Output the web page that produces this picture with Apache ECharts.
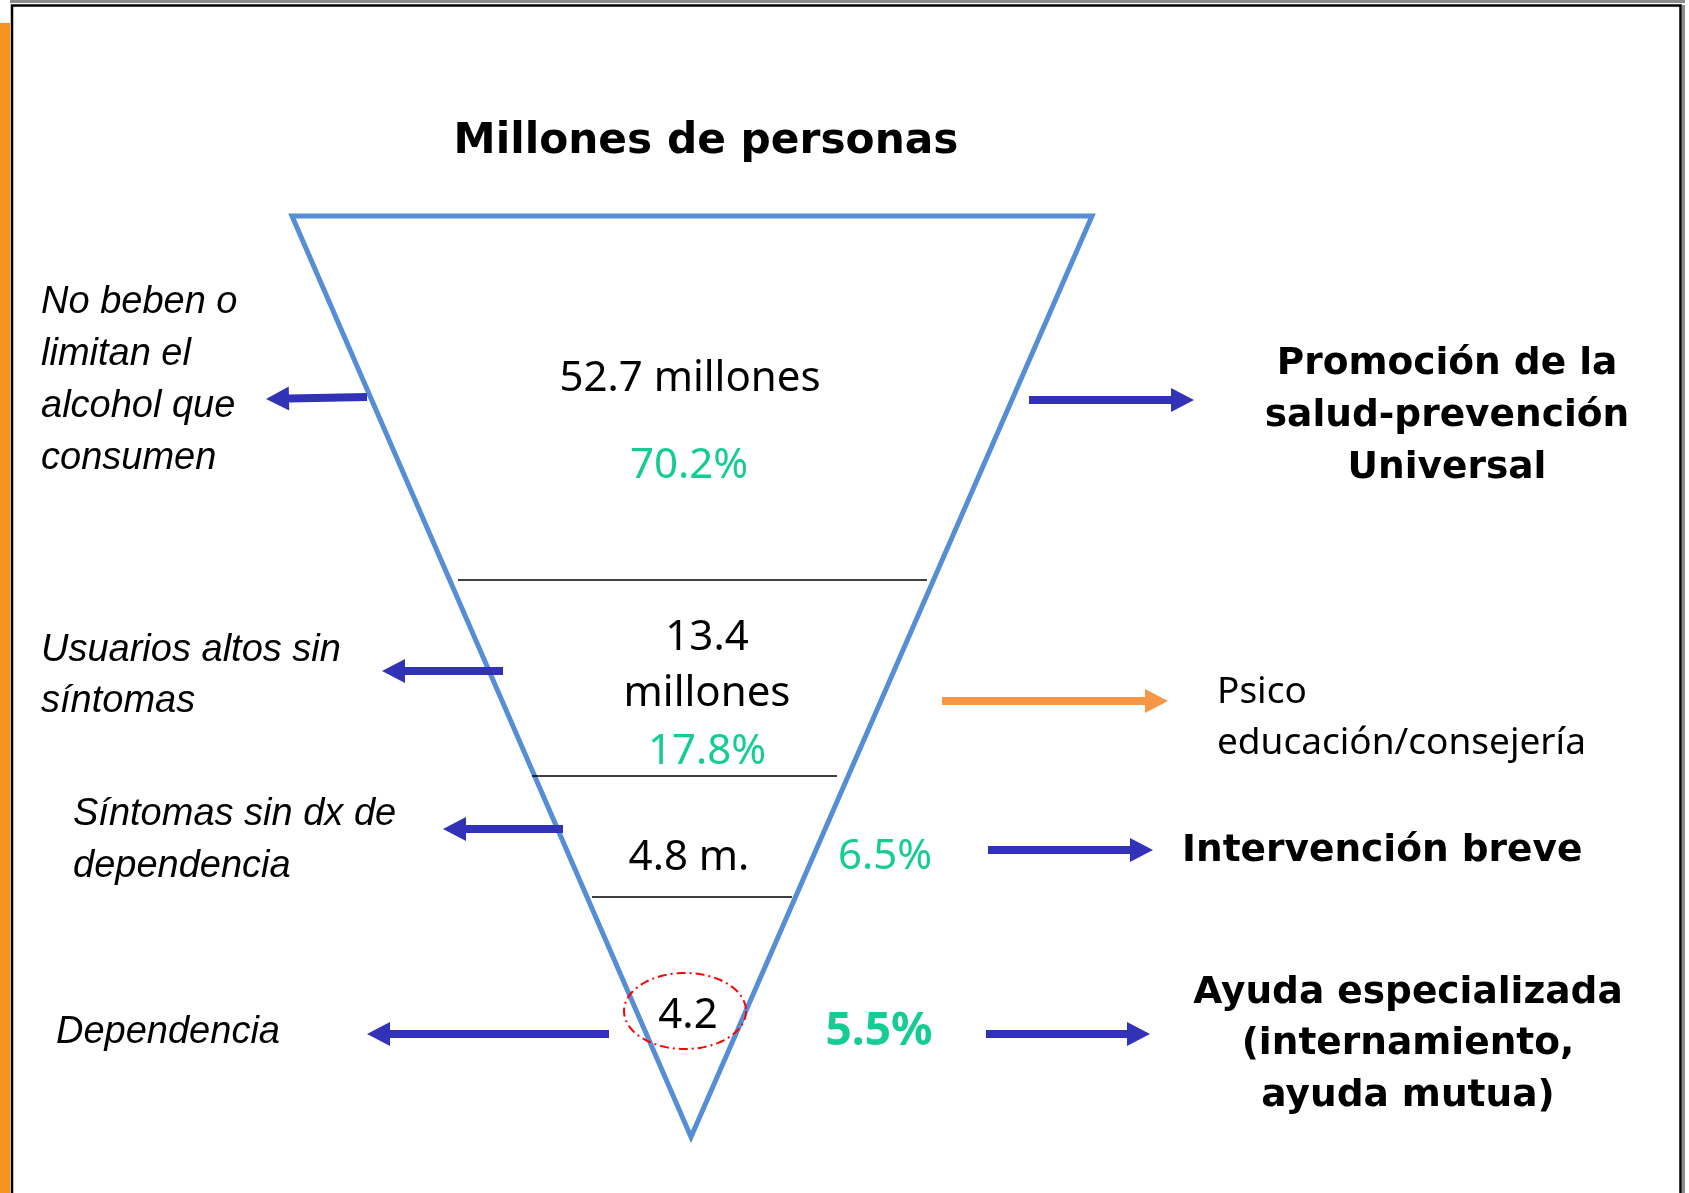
<!DOCTYPE html>
<html><head><meta charset="utf-8">
<script src="https://cdn.jsdelivr.net/npm/echarts@6/dist/echarts.min.js"></script>
<style>html,body{margin:0;padding:0;background:#fff;overflow:hidden}#c{width:1689px;height:1193px}</style>
</head><body><div id="c"></div><script>
// ---------- DATA ----------
const title = 'Millones de personas';
const groups = [
  'No beben o\nlimitan el\nalcohol que\nconsumen',
  'Usuarios altos sin\nsíntomas',
  'Síntomas sin dx de\ndependencia',
  'Dependencia'
];
const millions = [52.7, 13.4, 4.8, 4.2];
const millionLabels = ['52.7 millones', '13.4\nmillones', '4.8 m.', '4.2'];
const percents = [70.2, 17.8, 6.5, 5.5];
const percentLabels = ['70.2%', '17.8%', '6.5%', '5.5%'];
const interventions = [
  'Promoción de la\nsalud-prevención\nUniversal',
  'Psico\neducación/consejería',
  'Intervención breve',
  'Ayuda especializada\n(internamiento,\nayuda mutua)'
];

// ---------- LAYOUT (diagram units = page pixels) ----------
const W = 1689, H = 1193;
const tri = [[292, 216], [1092, 216], [691, 1137]];
const dividers = [[458, 927, 580], [532, 837, 776], [592, 792, 897]];
const millionPos = [[690, 379, 0], [707, 638, 56], [689, 858, 0], [688, 1016, 0]];
const percentPos = [[689, 466], [707, 752], [885, 857], [879, 1032]];
const groupPos = [[41, 302, 52], [41, 650, 51], [73, 814, 52], [56, 1032, 0]];
const intervPos = [[1447, 364, 52, 'center'], [1217, 692, 51, 'left'], [1182, 851, 0, 'left'], [1408, 993, 51.5, 'center']];
const titlePos = [706, 142];
const leftArrows = [[367, 397, 266, 399], [503, 671, 382, 671], [563, 829, 443, 829], [609, 1034, 367, 1034]];
const rightArrows = [[1029, 400, 1194, 400], [942, 701, 1168, 701], [988, 850, 1153, 850], [986, 1034, 1150, 1034]];
const ellipse = [685, 1011, 61, 38];

const BLUE = '#558ED5', NAVY = '#3232B9', ORANGE = '#F79646', GREEN = '#14CC94';

const chart = echarts.init(document.getElementById('c'), null, {renderer: 'canvas'});

function textLines(api, str, x, y, lh, align, font, fill) {
  return str.split('\n').map((s, i) => {
    const p = api.coord([x, y + i * lh]);
    return {type: 'text', x: p[0], y: p[1], style: {text: s, font: font, fill: fill, align: align, verticalAlign: 'middle'}};
  });
}
function arrowPoly(api, a, shaft, headL, headW) {
  const t = api.coord([a[0], a[1]]), h = api.coord([a[2], a[3]]);
  const dx = h[0] - t[0], dy = h[1] - t[1], L = Math.sqrt(dx * dx + dy * dy);
  const ux = dx / L, uy = dy / L, nx = -uy, ny = ux;
  const bx = h[0] - ux * headL, by = h[1] - uy * headL;
  return [
    [t[0] + nx * shaft / 2, t[1] + ny * shaft / 2],
    [bx + nx * shaft / 2, by + ny * shaft / 2],
    [bx + nx * headW / 2, by + ny * headW / 2],
    [h[0], h[1]],
    [bx - nx * headW / 2, by - ny * headW / 2],
    [bx - nx * shaft / 2, by - ny * shaft / 2],
    [t[0] - nx * shaft / 2, t[1] - ny * shaft / 2]
  ];
}

const option = {
  animation: false,
  backgroundColor: '#ffffff',
  grid: {left: 0, right: 0, top: 0, bottom: 0, containLabel: false},
  xAxis: {type: 'value', min: 0, max: W, show: false},
  yAxis: {type: 'value', min: 0, max: H, inverse: true, show: false},
  graphic: [
    {type: 'rect', shape: {x: 0, y: 23, width: 10, height: H}, style: {fill: '#F7941E'}},
    {type: 'rect', shape: {x: 10, y: 0, width: 1675, height: 3}, style: {fill: '#8C8C8C'}},
    {type: 'rect', shape: {x: 1682, y: 5, width: 3, height: H}, style: {fill: '#8C8C8C'}},
    {type: 'rect', shape: {x: 12, y: 5.5, width: 1668.5, height: H + 20}, style: {fill: 'none', stroke: '#000', lineWidth: 2.5}}
  ],
  series: [
    { // triangle
      type: 'custom', data: [[0]], silent: true,
      renderItem: (params, api) => ({
        type: 'polygon',
        shape: {points: tri.map(p => api.coord(p))},
        style: {fill: 'none', stroke: BLUE, lineWidth: 5, lineJoin: 'miter'}
      })
    },
    { // dividers
      type: 'custom', data: dividers.map((d, i) => [i]), silent: true,
      renderItem: (params, api) => {
        const d = dividers[api.value(0)];
        const a = api.coord([d[0], d[2]]), b = api.coord([d[1], d[2]]);
        return {type: 'line', shape: {x1: a[0], y1: a[1], x2: b[0], y2: b[1]}, style: {stroke: '#000', lineWidth: 1.5}};
      }
    },
    { // ellipse around dependence value
      type: 'custom', data: [[0]], silent: true,
      renderItem: (params, api) => {
        const pts = [];
        for (let k = 0; k <= 120; k++) {
          const t = k / 120 * Math.PI * 2;
          pts.push(api.coord([ellipse[0] + ellipse[2] * Math.cos(t), ellipse[1] + ellipse[3] * Math.sin(t)]));
        }
        return {type: 'polyline', shape: {points: pts}, style: {fill: 'none', stroke: '#FF0000', lineWidth: 2, lineDash: [9, 4, 2, 4]}};
      }
    },
    { // arrows
      type: 'custom', data: groups.map((g, i) => [i]), silent: true,
      renderItem: (params, api) => {
        const i = api.value(0);
        return {type: 'group', children: [
          {type: 'polygon', shape: {points: arrowPoly(api, leftArrows[i], 8, 23, 24)}, style: {fill: NAVY}},
          {type: 'polygon', shape: {points: arrowPoly(api, rightArrows[i], 8, 23, 24)}, style: {fill: i === 1 ? ORANGE : NAVY}}
        ]};
      }
    },
    { // texts
      type: 'custom', data: groups.map((g, i) => [i, millions[i], percents[i]]), silent: true,
      renderItem: (params, api) => {
        const i = api.value(0);
        const ch = [];
        const mp = millionPos[i];
        ch.push(...textLines(api, millionLabels[i], mp[0], mp[1], mp[2], 'center', '42px "Noto Sans"', '#000'));
        const pp = percentPos[i];
        ch.push(...textLines(api, percentLabels[i], pp[0], pp[1], 0, 'center', (i === 3 ? 'bold 46px' : '42px') + ' "Noto Sans"', GREEN));
        const gp = groupPos[i];
        ch.push(...textLines(api, groups[i], gp[0], gp[1], gp[2], 'left', 'italic 38px "Liberation Sans"', '#000'));
        const ip = intervPos[i];
        ch.push(...textLines(api, interventions[i], ip[0], ip[1], ip[2], ip[3], i === 1 ? '37px "Noto Sans"' : 'bold 37.5px "DejaVu Sans"', '#000'));
        if (i === 0) ch.push(...textLines(api, title, titlePos[0], titlePos[1], 0, 'center', 'bold 42.3px "DejaVu Sans"', '#000'));
        return {type: 'group', children: ch};
      }
    }
  ]
};
chart.setOption(option);
</script></body></html>
